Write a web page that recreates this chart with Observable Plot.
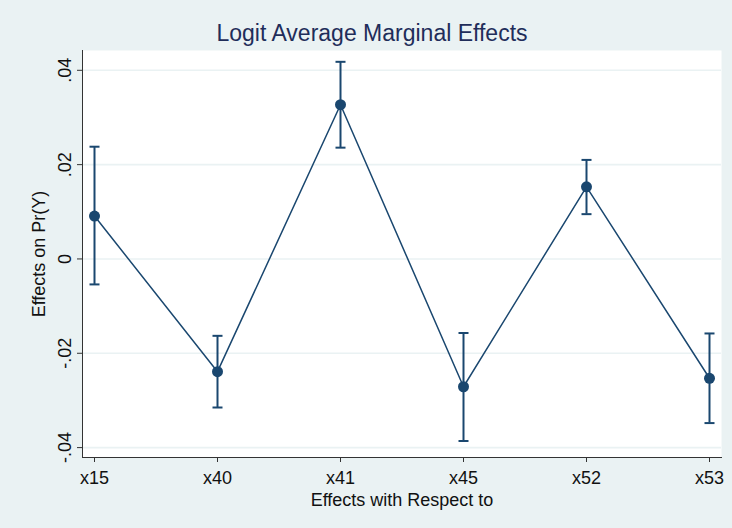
<!DOCTYPE html>
<html>
<head>
<meta charset="utf-8">
<script src="https://cdn.jsdelivr.net/npm/d3@7"></script>
<script src="https://cdn.jsdelivr.net/npm/@observablehq/plot@0.6"></script>
<style>
  html, body { margin: 0; padding: 0; background: #eaf2f3; }
  #wrap { width: 732px; height: 528px; background: #eaf2f3; font-family: "Liberation Sans", Arial, sans-serif; }
  #title { box-sizing: border-box; height: 50px; padding-top: 21px; padding-left: 12px; line-height: 24px;
           text-align: center; font-size: 23px; color: #1f2d5a; }
  #chart svg { display: block; }
</style>
</head>
<body>
<div id="wrap">
  <div id="title">Logit Average Marginal Effects</div>
  <div id="chart"></div>
</div>
<script>
const categories = ["x15", "x40", "x41", "x45", "x52", "x53"];
const effects    = [0.0091, -0.0239, 0.0327, -0.0271, 0.0153, -0.0253];
const ciLower    = [-0.0054, -0.0315, 0.0236, -0.0386, 0.0095, -0.0348];
const ciUpper    = [0.0238, -0.0163, 0.0418, -0.0157, 0.0210, -0.0158];
const yTicks     = [-0.04, -0.02, 0, 0.02, 0.04];
const yTickLabels = ["-.04", "-.02", "0", ".02", ".04"];

const data = categories.map((c, i) => ({cat: c, y: effects[i], lo: ciLower[i], hi: ciUpper[i]}));
const navy = "#1a476f";

// horizontal cap symbol for the error bars
const capSymbol = {
  draw(context, size) {
    const r = Math.sqrt(size / Math.PI);
    context.moveTo(-r, 0);
    context.lineTo(r, 0);
  }
};

const chart = Plot.plot({
  width: 732,
  height: 478,
  marginTop: 0,
  marginLeft: 82,
  marginRight: 11,
  marginBottom: 71,
  style: { background: "transparent", fontFamily: "Liberation Sans, Arial, sans-serif", fontSize: "18px", color: "#111" },
  x: { type: "point", domain: categories, padding: 0.095 },
  y: { domain: [-0.0421, 0.0442] },
  marks: [
    Plot.frame({ fill: "white", stroke: "none" }),
    Plot.ruleY(yTicks, { stroke: "#eaf2f3", strokeWidth: 1.6 }),
    Plot.frame({ anchor: "left", stroke: "#333", strokeWidth: 1 }),
    Plot.frame({ anchor: "bottom", stroke: "#333", strokeWidth: 1 }),
    Plot.axisY({
      ticks: yTicks,
      tickFormat: (d) => yTickLabels[yTicks.indexOf(d)],
      tickRotate: -90,
      tickSize: 5,
      tickPadding: 7,
      fontSize: 18,
      stroke: "#333",
      label: "Effects on Pr(Y)",
      labelAnchor: "center",
      labelArrow: "none",
      labelOffset: 50
    }),
    Plot.axisX({
      tickSize: 5,
      tickPadding: 9,
      fontSize: 18,
      stroke: "#333",
      label: "Effects with Respect to",
      labelAnchor: "center",
      labelArrow: "none",
      labelOffset: 48
    }),
    Plot.line(data, { x: "cat", y: "y", stroke: navy, strokeWidth: 1.5 }),
    Plot.ruleX(data, { x: "cat", y1: "lo", y2: "hi", stroke: navy, strokeWidth: 2 }),
    Plot.dot(data, { x: "cat", y: "lo", symbol: capSymbol, r: 5, fill: "none", stroke: navy, strokeWidth: 2 }),
    Plot.dot(data, { x: "cat", y: "hi", symbol: capSymbol, r: 5, fill: "none", stroke: navy, strokeWidth: 2 }),
    Plot.dot(data, { x: "cat", y: "y", r: 5.5, fill: navy, stroke: "none" })
  ]
});
document.getElementById("chart").appendChild(chart);
</script>
</body>
</html>
